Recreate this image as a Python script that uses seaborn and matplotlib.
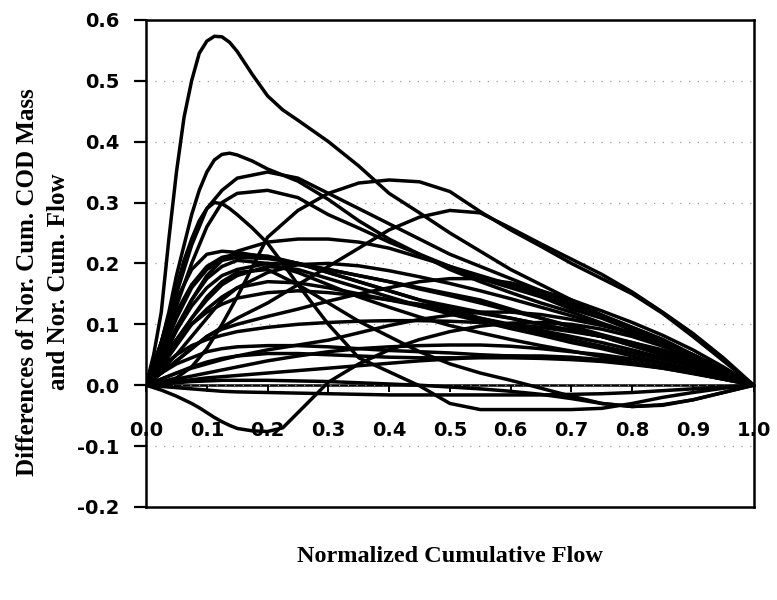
import numpy as np
import pandas as pd
import matplotlib
matplotlib.use("Agg")
import matplotlib.pyplot as plt
import seaborn as sns

# Normalized cumulative flow positions
flow = [0, 0.025, 0.05, 0.075, 0.1, 0.125, 0.15, 0.2, 0.25, 0.3, 0.35, 0.4,
        0.45, 0.5, 0.55, 0.6, 0.65, 0.7, 0.75, 0.8, 0.85, 0.9, 0.95, 1.0]
# Finer positions for events with a sharp early first flush
flow_fine = [0, 0.0125, 0.025, 0.0375, 0.05, 0.0625, 0.075, 0.0875, 0.1, 0.1125,
             0.125, 0.1375, 0.15, 0.175, 0.2, 0.225, 0.25, 0.3, 0.35, 0.4, 0.45,
             0.5, 0.55, 0.6, 0.65, 0.7, 0.75, 0.8, 0.85, 0.9, 0.95, 1.0]

# Difference between normalized cumulative COD mass and normalized cumulative flow
ev01 = [0, 0.05, 0.12, 0.24, 0.35, 0.44, 0.50, 0.545, 0.565, 0.573, 0.572, 0.563, 0.548, 0.51, 0.475, 0.452, 0.435, 0.40, 0.36, 0.315, 0.283, 0.25, 0.22, 0.19, 0.165, 0.14, 0.115, 0.09, 0.068, 0.045, 0.022, 0]
ev02 = [0, 0.03, 0.07, 0.12, 0.18, 0.23, 0.28, 0.32, 0.35, 0.37, 0.379, 0.381, 0.378, 0.368, 0.355, 0.345, 0.335, 0.305, 0.27, 0.24, 0.215, 0.19, 0.17, 0.152, 0.135, 0.12, 0.102, 0.085, 0.065, 0.045, 0.022, 0]
ev03 = [0, 0.07, 0.15, 0.23, 0.29, 0.32, 0.34, 0.35, 0.34, 0.315, 0.29, 0.265, 0.24, 0.215, 0.195, 0.175, 0.155, 0.135, 0.115, 0.095, 0.075, 0.05, 0.025, 0]
ev04 = [0, 0.06, 0.13, 0.20, 0.26, 0.30, 0.315, 0.32, 0.308, 0.28, 0.258, 0.235, 0.215, 0.195, 0.175, 0.16, 0.145, 0.125, 0.11, 0.09, 0.07, 0.05, 0.025, 0]
ev05 = [0, 0.03, 0.07, 0.115, 0.16, 0.205, 0.24, 0.27, 0.29, 0.30, 0.298, 0.29, 0.28, 0.258, 0.233, 0.20, 0.165, 0.10, 0.045, 0.022, -0.001, -0.03, -0.04, -0.04, -0.04, -0.04, -0.038, -0.03, -0.02, -0.012, -0.005, 0]
ev06 = [0, 0.005, 0.012, 0.03, 0.06, 0.10, 0.145, 0.243, 0.287, 0.315, 0.332, 0.337, 0.334, 0.318, 0.285, 0.255, 0.228, 0.20, 0.175, 0.15, 0.118, 0.08, 0.04, 0]
ev07 = [0, 0.02, 0.04, 0.06, 0.08, 0.095, 0.11, 0.135, 0.165, 0.195, 0.225, 0.255, 0.276, 0.287, 0.283, 0.258, 0.232, 0.207, 0.182, 0.153, 0.12, 0.085, 0.045, 0]
ev08 = [0, 0.04, 0.09, 0.14, 0.18, 0.205, 0.22, 0.235, 0.24, 0.24, 0.235, 0.225, 0.21, 0.195, 0.18, 0.165, 0.15, 0.13, 0.115, 0.095, 0.075, 0.05, 0.025, 0]
ev09 = [0, 0.07, 0.14, 0.19, 0.215, 0.22, 0.218, 0.21, 0.20, 0.19, 0.18, 0.17, 0.16, 0.15, 0.14, 0.125, 0.11, 0.095, 0.08, 0.065, 0.05, 0.035, 0.018, 0]
ev10 = [0, 0.05, 0.11, 0.16, 0.19, 0.205, 0.21, 0.208, 0.20, 0.185, 0.17, 0.155, 0.14, 0.13, 0.12, 0.11, 0.10, 0.09, 0.08, 0.065, 0.05, 0.035, 0.018, 0]
ev11 = [0, 0.04, 0.09, 0.13, 0.16, 0.18, 0.19, 0.20, 0.198, 0.19, 0.18, 0.17, 0.158, 0.147, 0.135, 0.122, 0.11, 0.097, 0.083, 0.07, 0.055, 0.038, 0.02, 0]
ev12 = [0, 0.035, 0.075, 0.11, 0.14, 0.165, 0.18, 0.195, 0.19, 0.175, 0.16, 0.145, 0.13, 0.117, 0.105, 0.093, 0.082, 0.07, 0.06, 0.048, 0.037, 0.025, 0.012, 0]
ev13 = [0, 0.03, 0.07, 0.11, 0.145, 0.17, 0.185, 0.19, 0.165, 0.135, 0.105, 0.08, 0.055, 0.035, 0.02, 0.008, -0.005, -0.018, -0.03, -0.035, -0.032, -0.024, -0.012, 0]
ev14 = [0, 0.045, 0.095, 0.14, 0.175, 0.195, 0.205, 0.20, 0.185, 0.165, 0.145, 0.128, 0.112, 0.098, 0.086, 0.075, 0.065, 0.056, 0.047, 0.038, 0.03, 0.02, 0.01, 0]
ev15 = [0, 0.03, 0.065, 0.10, 0.125, 0.145, 0.16, 0.17, 0.168, 0.16, 0.15, 0.14, 0.13, 0.12, 0.11, 0.10, 0.09, 0.08, 0.07, 0.058, 0.045, 0.03, 0.015, 0]
ev16 = [0, 0.02, 0.04, 0.06, 0.08, 0.092, 0.10, 0.113, 0.125, 0.138, 0.15, 0.16, 0.17, 0.175, 0.175, 0.168, 0.155, 0.14, 0.122, 0.103, 0.082, 0.058, 0.03, 0]
ev17 = [0, -0.004, -0.008, -0.013, -0.018, -0.024, -0.03, -0.037, -0.045, -0.053, -0.06, -0.066, -0.071, -0.075, -0.076, -0.07, -0.045, 0.005, 0.035, 0.058, 0.075, 0.088, 0.097, 0.102, 0.103, 0.10, 0.092, 0.08, 0.064, 0.045, 0.023, 0]
ev18 = [0, 0.02, 0.035, 0.045, 0.055, 0.06, 0.063, 0.065, 0.065, 0.063, 0.06, 0.057, 0.055, 0.053, 0.05, 0.048, 0.046, 0.044, 0.04, 0.036, 0.03, 0.022, 0.012, 0]
ev19 = [0, 0.005, 0.01, 0.015, 0.02, 0.025, 0.03, 0.04, 0.048, 0.055, 0.06, 0.063, 0.065, 0.066, 0.066, 0.064, 0.06, 0.055, 0.05, 0.043, 0.035, 0.025, 0.013, 0]
ev20 = [0, 0.01, 0.02, 0.03, 0.038, 0.044, 0.048, 0.052, 0.052, 0.05, 0.048, 0.046, 0.045, 0.045, 0.045, 0.045, 0.044, 0.042, 0.039, 0.034, 0.028, 0.02, 0.01, 0]
ev21 = [0, 0.003, 0.006, 0.009, 0.012, 0.014, 0.016, 0.02, 0.024, 0.028, 0.032, 0.036, 0.04, 0.043, 0.046, 0.048, 0.048, 0.046, 0.042, 0.036, 0.028, 0.019, 0.01, 0]
ev22 = [0, -0.002, -0.004, -0.006, -0.008, -0.01, -0.011, -0.012, -0.013, -0.014, -0.015, -0.016, -0.016, -0.016, -0.016, -0.016, -0.016, -0.015, -0.014, -0.012, -0.009, -0.006, -0.003, 0]
ev23 = [0, 0.002, 0.004, 0.006, 0.007, 0.008, 0.008, 0.008, 0.007, 0.006, 0.004, 0.002, 0.0, -0.003, -0.006, -0.01, -0.015, -0.022, -0.03, -0.035, -0.033, -0.024, -0.012, 0]
ev24 = [0, 0.03, 0.05, 0.065, 0.075, 0.082, 0.088, 0.095, 0.10, 0.103, 0.105, 0.106, 0.106, 0.105, 0.103, 0.10, 0.095, 0.088, 0.08, 0.07, 0.058, 0.042, 0.022, 0]
ev25 = [0, 0.04, 0.075, 0.10, 0.12, 0.133, 0.143, 0.152, 0.155, 0.152, 0.147, 0.14, 0.133, 0.125, 0.118, 0.11, 0.10, 0.09, 0.08, 0.068, 0.054, 0.038, 0.02, 0]
ev26 = [0, 0.06, 0.12, 0.165, 0.195, 0.21, 0.215, 0.212, 0.20, 0.185, 0.17, 0.155, 0.14, 0.125, 0.11, 0.098, 0.086, 0.075, 0.064, 0.053, 0.042, 0.03, 0.015, 0]
ev27 = [0, 0.025, 0.05, 0.08, 0.11, 0.14, 0.16, 0.185, 0.198, 0.20, 0.196, 0.188, 0.178, 0.167, 0.155, 0.142, 0.128, 0.114, 0.10, 0.085, 0.068, 0.048, 0.025, 0]
ev28 = [0, 0.01, 0.02, 0.028, 0.035, 0.042, 0.048, 0.058, 0.066, 0.074, 0.086, 0.098, 0.108, 0.115, 0.12, 0.12, 0.116, 0.108, 0.098, 0.085, 0.07, 0.05, 0.026, 0]

fine_events = [ev01, ev02, ev05, ev17]
events = [ev01, ev02, ev03, ev04, ev05, ev06, ev07, ev08, ev09, ev10, ev11, ev12, ev13, ev14,
          ev15, ev16, ev17, ev18, ev19, ev20, ev21, ev22, ev23, ev24, ev25, ev26, ev27, ev28]

y_ticks = [-0.2, -0.1, 0.0, 0.1, 0.2, 0.3, 0.4, 0.5, 0.6]
x_ticks = [0.0, 0.1, 0.2, 0.3, 0.4, 0.5, 0.6, 0.7, 0.8, 0.9, 1.0]

frames = []
for i, ev in enumerate(events):
    xs = flow_fine if any(ev is f for f in fine_events) else flow
    frames.append(pd.DataFrame({"flow": xs, "diff": ev, "event": i}))
df = pd.concat(frames, ignore_index=True)

sns.set_theme(style="white")
plt.rcParams["font.family"] = ["DejaVu Sans"]
plt.rcParams["text.color"] = "black"

fig = plt.figure(figsize=(7.77, 6.0), dpi=100)
ax = fig.add_axes([0.188, 0.155, 0.782, 0.812])

sns.lineplot(data=df, x="flow", y="diff", units="event", estimator=None,
             color="black", linewidth=2.5, sort=False, legend=False, ax=ax)
for line in ax.get_lines():
    line.set_solid_joinstyle("round")

ax.set_xlim(0, 1)
ax.set_ylim(-0.2, 0.6)

# Box frame
for side in ["left", "right", "top", "bottom"]:
    ax.spines[side].set_visible(True)
    ax.spines[side].set_color("black")
    ax.spines[side].set_linewidth(1.8)

# Dotted horizontal grid
ax.set_yticks(y_ticks)
ax.set_yticklabels([f"{v:.1f}" for v in y_ticks], fontweight="bold", fontsize=14)
ax.yaxis.grid(True, color="#9a9a9a", linestyle=(0, (1, 6)), linewidth=0.9)
ax.xaxis.grid(False)
ax.tick_params(axis="y", direction="out", length=9, width=1.6, pad=10, left=True,
               colors="black", labelcolor="black")
ax.tick_params(axis="x", bottom=False, labelbottom=False)

# Flow axis drawn along y = 0
sec = ax.secondary_xaxis(0.25)
sec.set_xticks(x_ticks)
sec.set_xticklabels([f"{v:.1f}" for v in x_ticks], fontweight="bold", fontsize=14)
sec.spines["bottom"].set_linewidth(1.8)
sec.spines["bottom"].set_color("black")
sec.tick_params(axis="x", direction="out", length=5, width=1.4, pad=21,
                colors="black", labelcolor="black")

ax.set_xlabel("")
ax.set_ylabel("")
fig.text(0.188 + 0.782 * 0.5, 0.073, "Normalized Cumulative Flow",
         ha="center", va="center", fontsize=17.5, fontweight="bold", color="black",
         family=["Liberation Serif"])
fig.text(0.055, 0.53, "Differences of Nor. Cum. COD Mass\nand Nor. Cum. Flow",
         ha="center", va="center", rotation=90, fontsize=18, fontweight="bold", color="black",
         family=["Liberation Serif"], linespacing=1.45, multialignment="center")

fig.savefig("out.png", dpi=100, facecolor="white")
